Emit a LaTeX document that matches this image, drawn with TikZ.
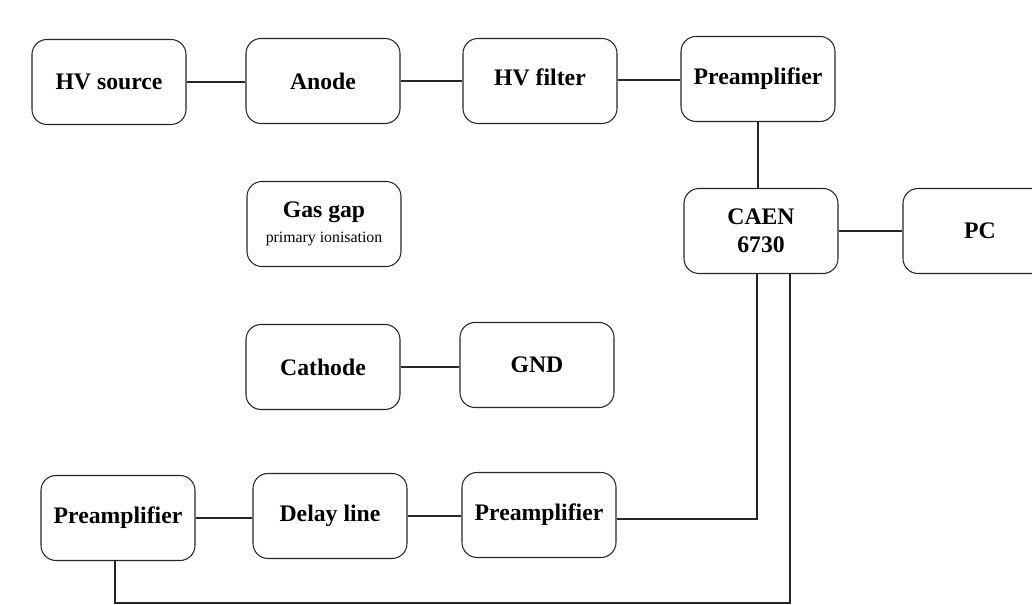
\documentclass[tikz,border=0pt]{standalone}
\usepackage{fontspec}
\setmainfont{Liberation Serif}
\usepackage{tikz}

\begin{document}
\begin{tikzpicture}[
    block/.style={draw=black!85, line width=0.6pt, rounded corners=0.3cm,
      minimum width=3.08cm, minimum height=1.7cm, inner sep=0pt, align=center,
      font=\fontsize{13.5}{16}\selectfont\bfseries},
    wire/.style={draw=black!85, line width=0.6pt}]
              \clip (0,0) rectangle (20.64,12.1);
              % top chain
              \node [block] at (2.18,10.46) (hvsrc) {HV source};
              \node [block] at (6.46,10.48) (anode) {Anode};
              \node [block] at (10.80,10.48) (hvfilter) {\raisebox{0.08cm}[\height][\depth]{HV filter}};
              \node [block] at (15.16,10.52) (preamptop) {Preamplifier};
              \node [block] at (15.22,7.48) (caen) {CAEN\\6730};
              \node [block] at (19.60,7.48) (pc) {PC};
              % detector
              \node [block] at (6.48,7.62) (gasgap) {Gas gap\\[-2pt]{\fontsize{9}{11}\selectfont\mdseries primary ionisation}};
              \node [block] at (6.46,4.76) (cathode) {Cathode};
              \node [block] at (10.74,4.80) (gnd) {GND};
              % bottom chain
              \node [block] at (2.36,1.74) (preampbl) {Preamplifier};
              \node [block] at (6.60,1.78) (delay) {Delay line};
              \node [block] at (10.78,1.80) (preampbm) {Preamplifier};
              \coordinate (loop) at (15.80,0.04);

              \draw [wire] (hvsrc.east) -- (hvsrc.east -| anode.west);
              \draw [wire] (anode.east) -- (anode.east -| hvfilter.west);
              \draw [wire] ([yshift=0.02cm]hvfilter.east) -- ([yshift=0.02cm]hvfilter.east -| preamptop.west);
              \draw [wire] (preamptop.south) -- (preamptop.south |- caen.north);
              \draw [wire] (caen.east) -- (caen.east -| pc.west);
              \draw [wire] (cathode.east) -- (cathode.east -| gnd.west);
              \draw [wire] (preampbl.east) -- (preampbl.east -| delay.west);
              \draw [wire] (delay.east) -- (delay.east -| preampbm.west);
              \draw [wire] ([yshift=-0.08cm]preampbm.east) -| ([xshift=-0.08cm]caen.south);
              \draw [wire] ([xshift=-0.06cm]preampbl.south) |- (loop) -- ([xshift=0.58cm]caen.south);
\end{tikzpicture}
\end{document}
